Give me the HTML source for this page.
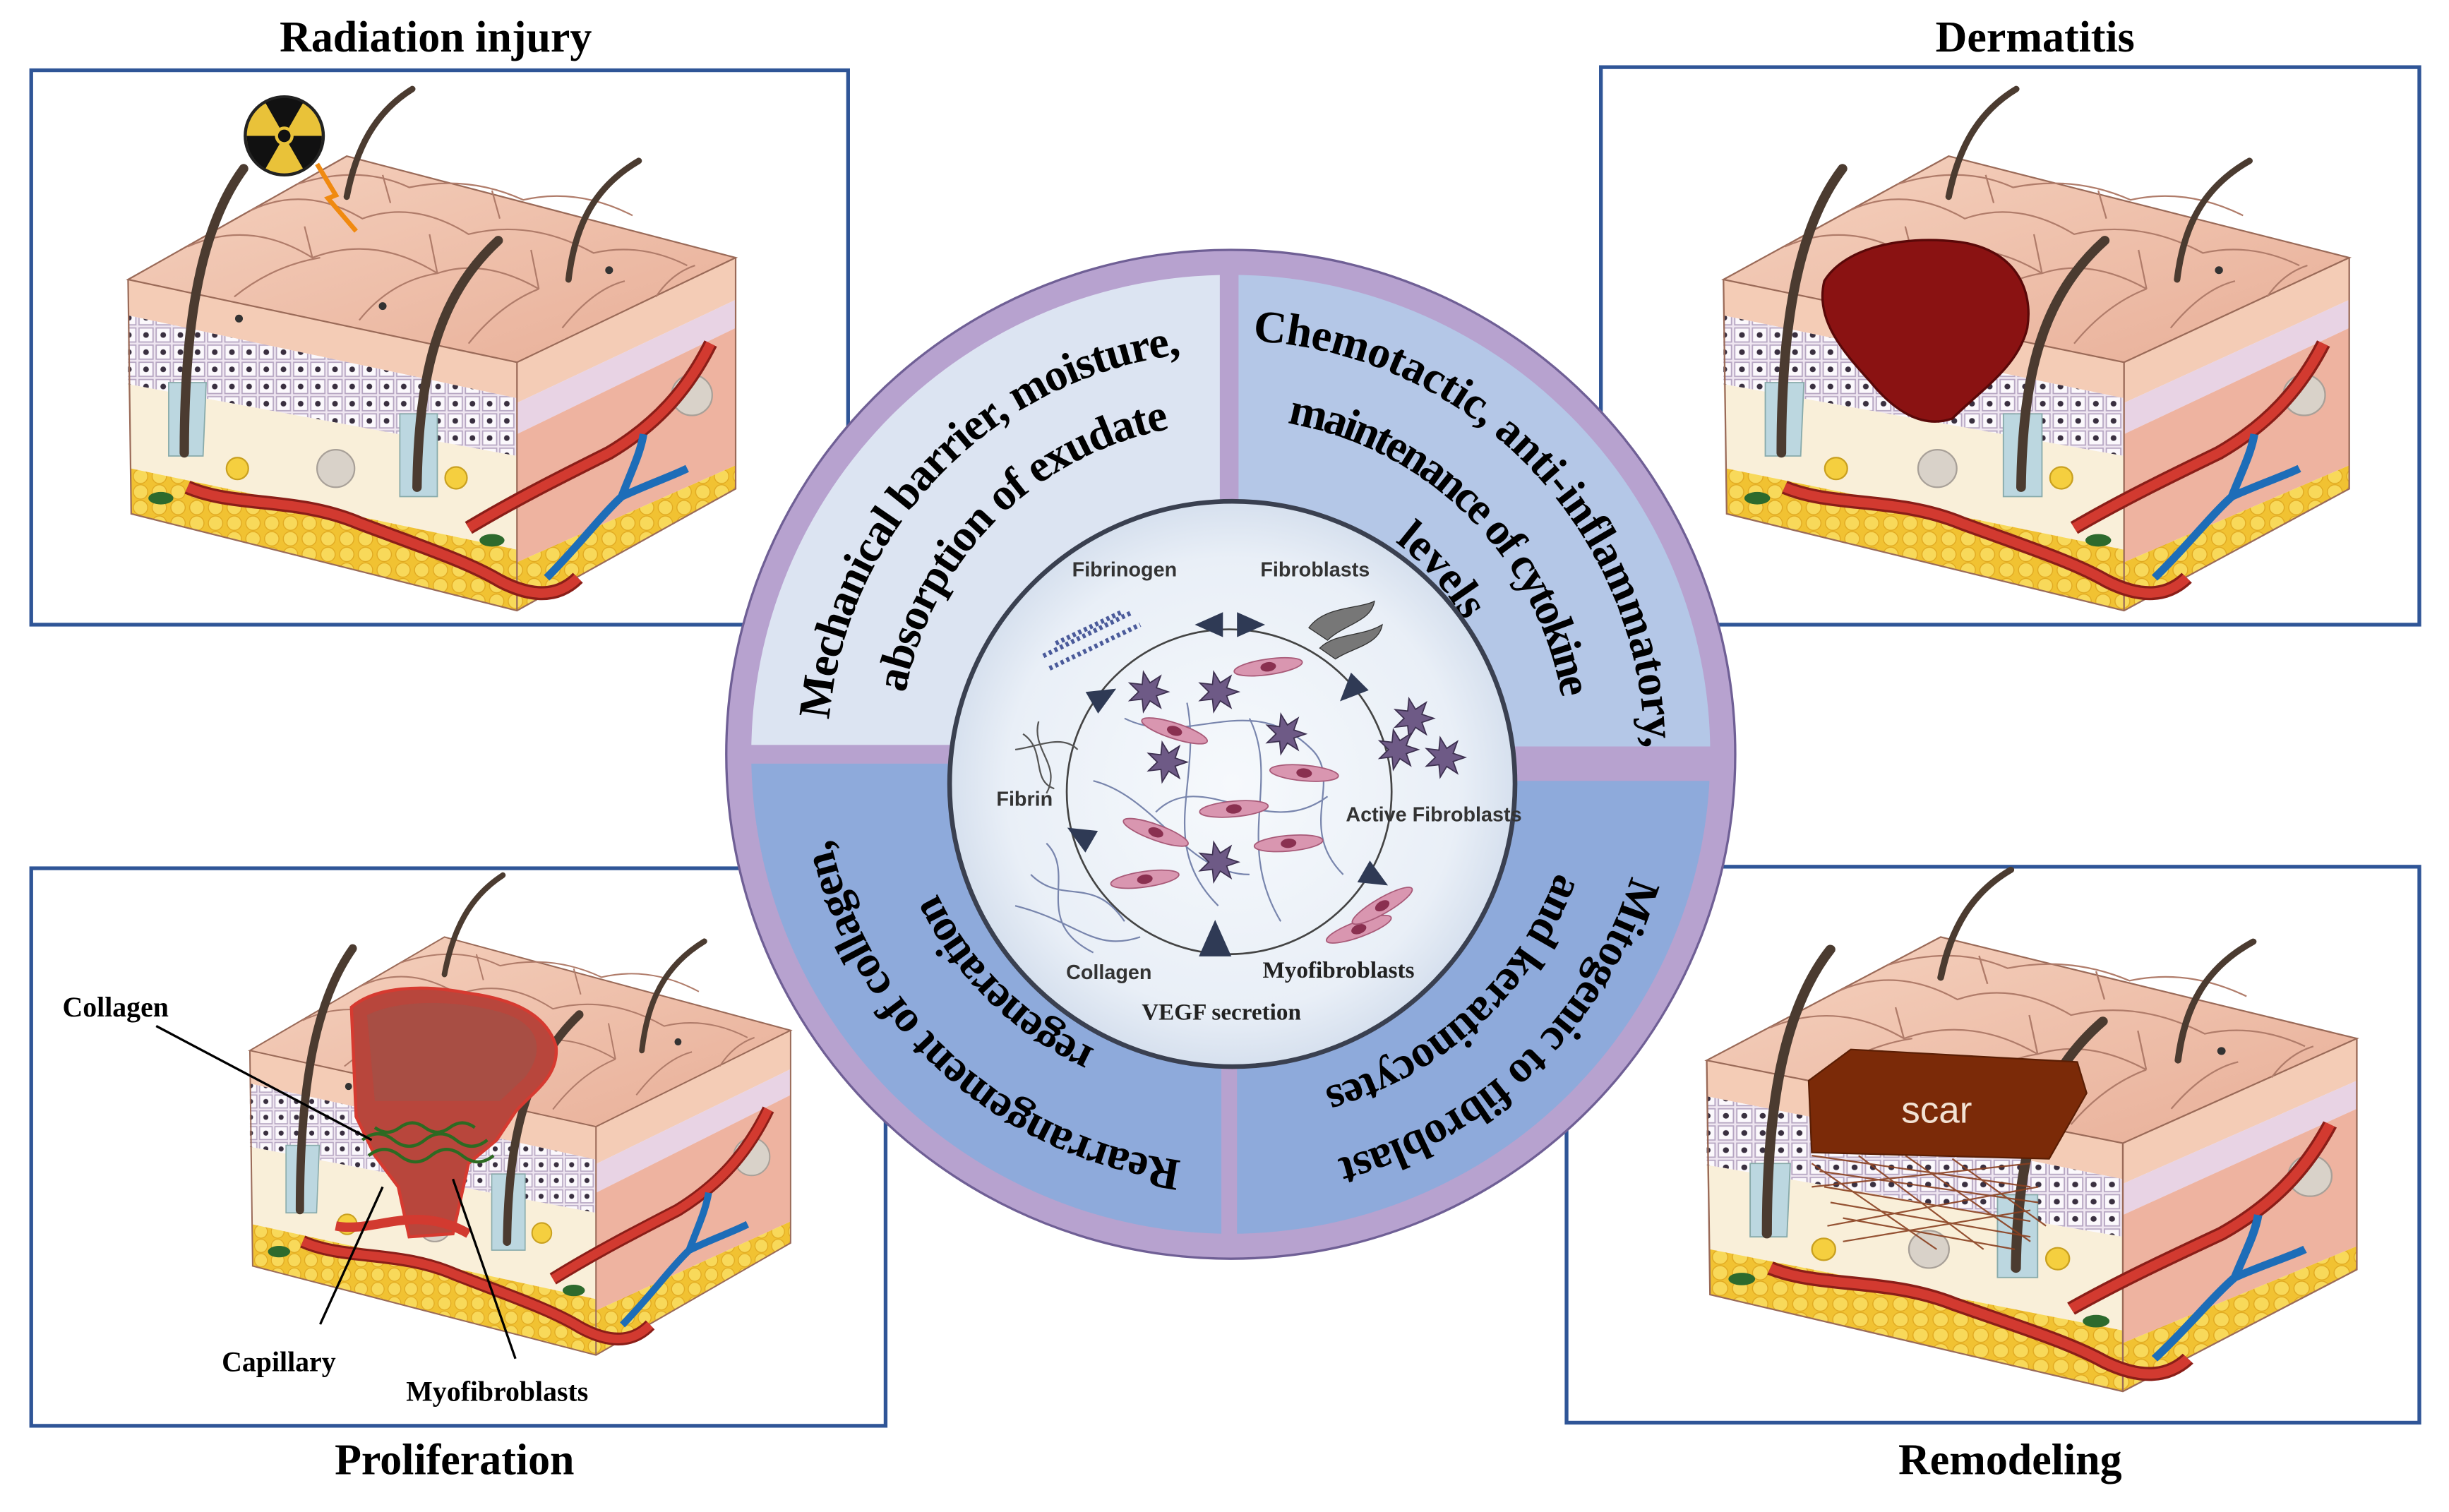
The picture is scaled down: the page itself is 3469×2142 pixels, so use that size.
<!DOCTYPE html>
<html><head><meta charset="utf-8"><style>
html,body{margin:0;padding:0;background:#fff;overflow:hidden}
svg{display:block}
</style></head><body>
<svg width="3469" height="2142" viewBox="0 0 1568 968.2" preserveAspectRatio="none" xmlns="http://www.w3.org/2000/svg">
<defs>
<pattern id="cells" width="11" height="11" patternUnits="userSpaceOnUse">
<rect width="11" height="11" fill="#efe6f1"/>
<rect x="1" y="1" width="9" height="9" fill="#fbf8fc" stroke="#b6a6c2" stroke-width="0.8"/>
<circle cx="5.5" cy="5.5" r="1.8" fill="#3a3040"/>
</pattern>
<pattern id="fat" width="12" height="10" patternUnits="userSpaceOnUse">
<rect width="12" height="10" fill="#f1c232"/>
<circle cx="6" cy="5" r="4.6" fill="#f8d95a" stroke="#e0a820" stroke-width="0.6"/>
</pattern>
<linearGradient id="topg" x1="0" y1="0" x2="1" y2="1">
<stop offset="0" stop-color="#f5d2bf"/><stop offset="1" stop-color="#e8ae97"/>
</linearGradient>
<radialGradient id="inner" cx="0.5" cy="0.5" r="0.5">
<stop offset="0" stop-color="#f6f9fc"/><stop offset="0.8" stop-color="#e9eff7"/><stop offset="1" stop-color="#d6e0ee"/>
</radialGradient>
<clipPath id="qclip"><circle cx="788" cy="483" r="307"/></clipPath>

<g id="blk">
 <polygon points="82,179 331,232 331,255 82,202" fill="#f4ccb6"/>
 <polygon points="82,202 331,255 331,292 82,246" fill="url(#cells)"/>
 <polygon points="82,246 331,292 331,352 84,300" fill="#f9efd9"/>
 <polygon points="84,300 331,352 331,391 84,329" fill="url(#fat)"/>
 <polygon points="331,232 471,165 471,192 331,258" fill="#f4ccb6"/>
 <polygon points="331,258 471,192 471,210 331,278" fill="#e8d3e4"/>
 <polygon points="331,278 471,210 471,298 331,360" fill="#eeb3a0"/>
 <polygon points="331,360 471,298 471,313 331,391" fill="url(#fat)"/>
 <polygon points="82,179 222,100 471,165 331,232" fill="url(#topg)" stroke="#9a6a58" stroke-width="1"/>
 <g fill="none" stroke="#b07c6a" stroke-width="1">
  <path d="M120,158 Q160,140 200,165 Q240,150 280,175 Q310,165 345,185"/>
  <path d="M160,135 Q195,118 232,140 Q265,128 300,150 Q340,140 380,162 Q410,155 440,170"/>
  <path d="M190,118 Q230,105 262,120 Q300,112 335,128 Q370,120 405,138"/>
  <path d="M150,190 Q175,170 205,165 M230,205 Q250,180 280,175 M300,220 Q320,195 345,185 M360,210 Q380,185 400,180 M420,190 Q430,175 445,170"/>
  <path d="M200,165 L195,145 M280,175 L275,150 M345,185 L340,160 M250,130 L245,112 M320,140 L315,122"/>
 </g>
 <g fill="#333"><circle cx="153" cy="204" r="2.5"/><circle cx="245" cy="196" r="2.5"/><circle cx="390" cy="173" r="2.5"/></g>
 <polyline points="82,179 84,329 331,391 471,313 471,165" fill="none" stroke="#9a6a58" stroke-width="1"/>
 <line x1="331" y1="232" x2="331" y2="391" stroke="#9a6a58" stroke-width="1"/>
 <path d="M108,245 L108,292 L130,292 L132,245 Z" fill="#bcd7e0" stroke="#8aa" stroke-width="0.8"/>
 <path d="M256,265 L256,318 L280,318 L280,265 Z" fill="#bcd7e0" stroke="#8aa" stroke-width="0.8"/>
 <g fill="none" stroke="#4b3b30" stroke-linecap="round">
  <path d="M118,290 C118,220 125,150 156,108" stroke-width="6"/>
  <path d="M267,312 C268,240 280,190 319,154" stroke-width="6"/>
  <path d="M222,126 C228,95 240,72 264,57" stroke-width="4"/>
  <path d="M364,179 C368,145 380,120 409,103" stroke-width="4"/>
 </g>
 <circle cx="152" cy="300" r="7" fill="#f5cf3f" stroke="#c9a020"/>
 <circle cx="292" cy="306" r="7" fill="#f5cf3f" stroke="#c9a020"/>
 <circle cx="215" cy="300" r="12" fill="#d9d2c9" stroke="#a8a098"/>
 <circle cx="443" cy="253" r="13" fill="#d9d2c9" stroke="#a8a098"/>
 <ellipse cx="103" cy="319" rx="8" ry="4" fill="#2d6a2d"/>
 <ellipse cx="315" cy="346" rx="8" ry="4" fill="#2d6a2d"/>
 <path d="M120,312 C150,325 190,318 230,335 C270,350 300,360 320,372 C345,385 360,380 370,370" fill="none" stroke="#8a1e18" stroke-width="9"/>
 <path d="M120,312 C150,325 190,318 230,335 C270,350 300,360 320,372 C345,385 360,380 370,370" fill="none" stroke="#d23a30" stroke-width="6"/>
 <path d="M300,338 C330,320 360,305 390,290 C420,272 440,250 455,220" fill="none" stroke="#8a1e18" stroke-width="9"/>
 <path d="M300,338 C330,320 360,305 390,290 C420,272 440,250 455,220" fill="none" stroke="#d23a30" stroke-width="6"/>
 <path d="M350,370 C370,350 385,330 398,318 C405,300 410,290 412,278 M398,318 C415,310 430,305 440,300" fill="none" stroke="#1d6db8" stroke-width="5"/>
</g>

<polygon id="star" points="13,0 5.4,2.6 8.1,10.2 1.3,5.8 -2.9,12.7 -3.7,4.7 -11.7,5.6 -6,0 -11.7,-5.6 -3.7,-4.7 -2.9,-12.7 1.3,-5.8 8.1,-10.2 5.4,-2.6" fill="#6e5a86" stroke="#3d3050" stroke-width="0.8"/>
<g id="spin"><ellipse rx="22" ry="5" fill="#d996b0" stroke="#a85a78" stroke-width="0.8"/><ellipse rx="5" ry="3" fill="#8a3050"/></g>
<polygon id="tri" points="-8,-8 10,0 -8,8" fill="#2f3a55"/>

<path id="p258" d="M1046,483 A258,258 0 1 1 530,483 A258,258 0 1 1 1046,483"/>
<path id="p212" d="M1000,483 A212,212 0 1 1 576,483 A212,212 0 1 1 1000,483"/>
<path id="p265" d="M1053,483 A265,265 0 1 1 523,483 A265,265 0 1 1 1053,483"/>
<path id="p215" d="M1003,483 A215,215 0 1 1 573,483 A215,215 0 1 1 1003,483"/>
<path id="p172" d="M960,483 A172,172 0 1 1 616,483 A172,172 0 1 1 960,483"/>
<path id="p262" d="M1050,483 A262,262 0 1 1 526,483 A262,262 0 1 1 1050,483"/>
<path id="p208" d="M996,483 A208,208 0 1 1 580,483 A208,208 0 1 1 996,483"/>
<path id="p268" d="M1056,483 A268,268 0 1 1 520,483 A268,268 0 1 1 1056,483"/>
<path id="p222" d="M1010,483 A222,222 0 1 1 566,483 A222,222 0 1 1 1010,483"/>
</defs>

<rect width="1568" height="968.2" fill="#fff"/>

<g fill="none" stroke="#2f5597" stroke-width="2.4">
 <rect x="20" y="45" width="523" height="355"/>
 <rect x="1025" y="43" width="524" height="357"/>
 <rect x="20" y="556" width="547" height="357"/>
 <rect x="1003" y="555" width="546" height="356"/>
</g>

<g font-family="Liberation Serif, serif" font-weight="bold" font-size="28" text-anchor="middle" fill="#000">
 <text x="279" y="33">Radiation injury</text>
 <text x="1303" y="33">Dermatitis</text>
 <text x="291" y="944">Proliferation</text>
 <text x="1287" y="944">Remodeling</text>
</g>

<use href="#blk"/>
<use href="#blk" transform="translate(1019,0) scale(1.03,1)"/>
<use href="#blk" transform="translate(87,508) scale(0.89,0.92)"/>
<use href="#blk" transform="translate(1005,500) scale(1.07,1)"/>

<circle cx="182" cy="87" r="25" fill="#e9c239" stroke="#222" stroke-width="2"/>
<g fill="#111">
 <path d="M182,87 L170,66 A24,24 0 0 1 194,66 Z"/>
 <path d="M182,87 L206,87 A24,24 0 0 1 194,108 Z"/>
 <path d="M182,87 L170,108 A24,24 0 0 1 158,87 Z"/>
</g>
<circle cx="182" cy="87" r="6" fill="#e9c239"/><circle cx="182" cy="87" r="4" fill="#111"/>
<polyline points="203,105 215,125 210,127 228,148" fill="none" stroke="#f08a10" stroke-width="3"/>

<path d="M1168,180 C1180,160 1215,150 1255,155 C1290,160 1302,185 1298,210 C1292,235 1268,250 1250,268 C1230,275 1212,262 1198,245 C1180,225 1162,205 1168,180 Z" fill="#8a1212" stroke="#5a0808" stroke-width="1.5"/>

<path d="M225,645 C240,632 270,630 300,636 C330,640 350,650 356,670 C358,690 340,700 330,712 L318,730 L300,745 L290,790 L262,792 L255,760 L240,740 L228,715 Z" fill="#b8463c" stroke="#d63a30" stroke-width="2"/>
<path d="M235,650 C255,640 290,640 320,648 C345,655 350,672 336,690 L320,705 L240,705 Z" fill="#a84e44"/>
<g fill="none" stroke="#2d6a22" stroke-width="2">
 <path d="M232,730 q10,-8 20,0 t20,0 t20,0 t20,0"/>
 <path d="M236,740 q10,-8 20,0 t20,0 t20,0 t20,0"/>
 <path d="M240,722 q8,6 16,0 t16,0 t16,0 t16,0"/>
</g>
<path d="M215,785 C240,790 265,770 300,790" fill="none" stroke="#d23a30" stroke-width="6"/>
<g stroke="#000" stroke-width="1.5">
 <line x1="100" y1="657" x2="238" y2="730"/>
 <line x1="205" y1="848" x2="245" y2="760"/>
 <line x1="330" y1="870" x2="290" y2="755"/>
</g>
<g font-family="Liberation Serif, serif" font-weight="bold" font-size="18" fill="#000">
 <text x="40" y="651">Collagen</text>
 <text x="142" y="878">Capillary</text>
 <text x="260" y="897">Myofibroblasts</text>
</g>

<g stroke="#8a4020" stroke-width="1" opacity="0.9">
 <path d="M1160,740 L1300,760 M1165,750 L1305,770 M1168,760 L1300,782 M1172,770 L1300,792 M1180,780 L1290,800 M1160,745 L1240,800 M1190,740 L1270,800 M1220,740 L1300,795 M1250,742 L1310,785 M1160,760 L1300,745 M1170,785 L1305,760 M1180,795 L1300,775"/>
</g>
<path d="M1158,692 L1185,672 L1330,680 L1336,700 L1312,742 L1160,738 Z" fill="#7b2a08" stroke="#5a1e04"/>
<text x="1240" y="719" font-family="Liberation Sans, sans-serif" font-size="24" fill="#f2e2d4" text-anchor="middle">scar</text>

<circle cx="788" cy="483" r="323" fill="#b7a2cf" stroke="#6f5f95" stroke-width="1.5"/>
<g clip-path="url(#qclip)">
 <rect x="470" y="160" width="311" height="317" fill="#dce4f2"/>
 <rect x="793" y="160" width="320" height="318" fill="#b4c7e7"/>
 <rect x="470" y="489" width="312" height="320" fill="#8eaadb"/>
 <rect x="792" y="500" width="320" height="310" fill="#8eaadb"/>
</g>

<g font-family="Liberation Serif, serif" font-weight="bold" font-size="29" fill="#000" text-anchor="middle">
 <text textLength="351" lengthAdjust="spacing"><textPath href="#p258" startOffset="62.2%">Mechanical barrier, moisture,</textPath></text>
 <text textLength="254" lengthAdjust="spacing"><textPath href="#p212" startOffset="62.5%">absorption of exudate</textPath></text>
 <text textLength="398" lengthAdjust="spacing"><textPath href="#p265" startOffset="87.8%">Chemotactic, anti-inflammatory,</textPath></text>
 <text textLength="265" lengthAdjust="spacing"><textPath href="#p215" startOffset="87.5%">maintenance of cytokine</textPath></text>
 <text><textPath href="#p172" startOffset="88.6%">levels</textPath></text>
 <text textLength="325" lengthAdjust="spacing"><textPath href="#p262" startOffset="36.8%">Rearrangement of collagen,</textPath></text>
 <text textLength="145" lengthAdjust="spacing"><textPath href="#p208" startOffset="37.4%">regeneration</textPath></text>
 <text textLength="273" lengthAdjust="spacing"><textPath href="#p268" startOffset="12.8%">Mitogenic to fibroblast</textPath></text>
 <text textLength="211" lengthAdjust="spacing"><textPath href="#p222" startOffset="13.1%">and keratinocytes</textPath></text>
</g>

<circle cx="789" cy="502" r="181" fill="url(#inner)" stroke="#3a4050" stroke-width="3"/>
<circle cx="787" cy="507" r="104" fill="none" stroke="#444" stroke-width="1.2"/>
<g fill="none" stroke="#5b6a9a" stroke-width="1" opacity="0.8">
 <path d="M720,460 C760,480 800,440 840,480 C860,500 830,530 860,560"/>
 <path d="M740,520 C770,490 810,540 850,510"/>
 <path d="M760,450 C770,500 740,540 780,580"/>
 <path d="M800,460 C820,500 790,540 820,590"/>
 <path d="M700,500 C740,510 760,560 800,560"/>
 <path d="M660,560 C680,580 700,560 720,590 M650,580 C690,590 700,610 730,600 M670,540 C690,560 660,590 700,610"/>
</g>
<g fill="none" stroke="#555" stroke-width="1">
 <path d="M655,470 C670,480 660,500 675,505 M665,462 C660,480 680,490 670,508 M650,480 C665,478 680,470 690,480"/>
</g>
<g stroke="#4a5a9a" stroke-width="3" stroke-dasharray="2 2">
 <line x1="668" y1="420" x2="725" y2="392"/><line x1="672" y1="428" x2="730" y2="400"/><line x1="676" y1="412" x2="718" y2="392"/>
</g>
<g fill="#777" stroke="#333" stroke-width="0.6">
 <path d="M838,402 C848,388 870,390 880,385 C878,398 860,400 850,410 Z"/>
 <path d="M845,415 C855,405 872,408 885,400 C883,413 865,415 855,422 Z"/>
</g>
<use href="#star" x="735" y="443"/><use href="#star" x="780" y="443"/><use href="#star" x="823" y="470"/>
<use href="#star" x="747" y="488"/><use href="#star" x="780" y="552"/><use href="#star" x="905" y="460"/>
<use href="#star" x="925" y="485"/><use href="#star" x="895" y="480"/>
<use href="#spin" transform="translate(812,427) rotate(-8)"/>
<use href="#spin" transform="translate(752,468) rotate(18)"/>
<use href="#spin" transform="translate(835,495) rotate(5)"/>
<use href="#spin" transform="translate(790,518) rotate(-5)"/>
<use href="#spin" transform="translate(740,533) rotate(20)"/>
<use href="#spin" transform="translate(825,540) rotate(-5)"/>
<use href="#spin" transform="translate(733,563) rotate(-8)"/>
<use href="#spin" transform="translate(870,595) rotate(-20)"/>
<use href="#spin" transform="translate(885,580) rotate(-30)"/>
<use href="#tri" transform="translate(775,400) rotate(180)"/>
<use href="#tri" transform="translate(800,400)"/>
<use href="#tri" transform="translate(865,442) rotate(135)"/>
<use href="#tri" transform="translate(880,562) rotate(30)"/>
<use href="#tri" transform="translate(778,602) rotate(-90) scale(1.3)"/>
<use href="#tri" transform="translate(692,535) rotate(210)"/>
<use href="#tri" transform="translate(706,446) rotate(-30)"/>
<g font-family="Liberation Sans, sans-serif" font-weight="bold" font-size="13" fill="#333" text-anchor="middle">
 <text x="720" y="369">Fibrinogen</text>
 <text x="842" y="369">Fibroblasts</text>
 <text x="656" y="516">Fibrin</text>
 <text x="918" y="526">Active Fibroblasts</text>
 <text x="710" y="627">Collagen</text>
</g>
<g font-family="Liberation Serif, serif" font-weight="bold" font-size="15" fill="#222" text-anchor="middle">
 <text x="857" y="626">Myofibroblasts</text>
 <text x="782" y="653">VEGF secretion</text>
</g>
</svg>
</body></html>
